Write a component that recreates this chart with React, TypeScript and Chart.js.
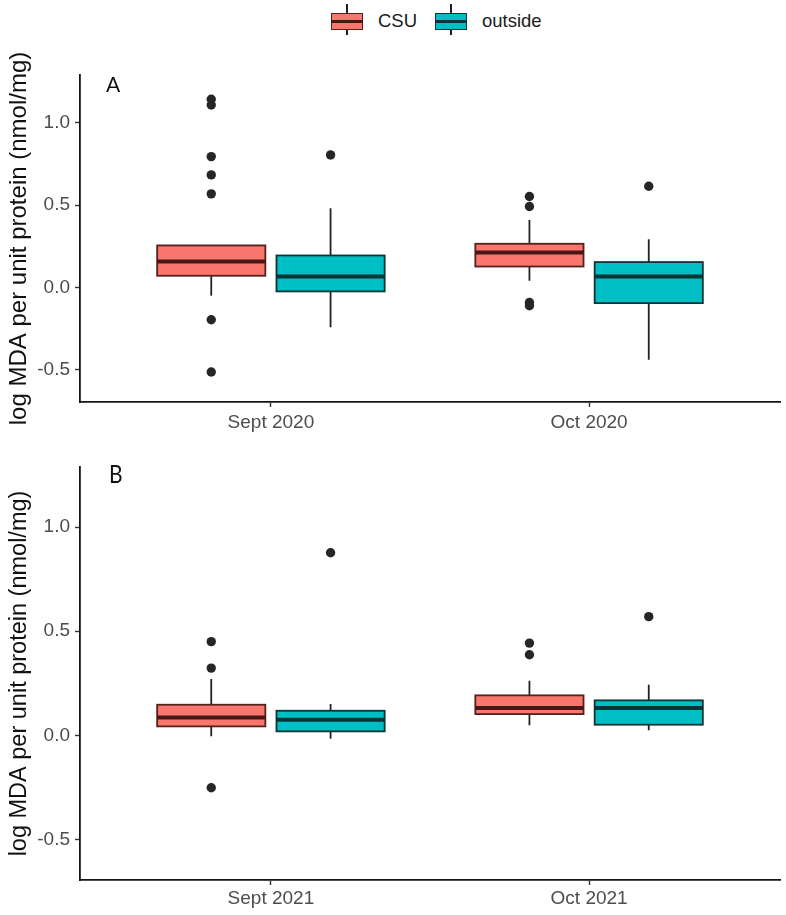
import React, { useEffect, useRef } from 'react';
import { Chart, registerables } from 'chart.js';

Chart.register(...registerables);

// ---------- data ----------
const groups = ['CSU', 'outside'];
const yTickValues = [-0.5, 0, 0.5, 1.0];
const yMin = -0.695;
const yMax = 1.289;
const yTitle = 'log MDA per unit protein (nmol/mg)';

// Panel A
const categoriesA = ['Sept 2020', 'Oct 2020'];
const csuA_low = [-0.05, 0.041];
const csuA_q1 = [0.071, 0.127];
const csuA_median = [0.158, 0.212];
const csuA_q3 = [0.255, 0.265];
const csuA_high = [0.255, 0.41];
const csuA_outliers = [
  [1.142, 1.107, 0.794, 0.683, 0.568, -0.196, -0.513],
  [0.552, 0.491, -0.091, -0.111],
];
const outsideA_low = [-0.242, -0.438];
const outsideA_q1 = [-0.024, -0.095];
const outsideA_median = [0.067, 0.067];
const outsideA_q3 = [0.194, 0.154];
const outsideA_high = [0.481, 0.293];
const outsideA_outliers = [[0.804], [0.614]];

// Panel B
const categoriesB = ['Sept 2021', 'Oct 2021'];
const csuB_low = [-0.005, 0.048];
const csuB_q1 = [0.043, 0.102];
const csuB_median = [0.086, 0.131];
const csuB_q3 = [0.147, 0.192];
const csuB_high = [0.27, 0.262];
const csuB_outliers = [
  [0.45, 0.323, -0.252],
  [0.443, 0.387],
];
const outsideB_low = [-0.017, 0.024];
const outsideB_q1 = [0.019, 0.051];
const outsideB_median = [0.075, 0.131];
const outsideB_q3 = [0.118, 0.168];
const outsideB_high = [0.15, 0.243];
const outsideB_outliers = [[0.877], [0.57]];

// ---------- styles ----------
const FONT = "'Liberation Sans', Arial, sans-serif";
const GROUP_OFFSET = 0.1875;
const BOX_HALF = 0.17;
const styles = [
  { fill: '#F8766D', stroke: '#52211e', median: '#4a1613' },
  { fill: '#00BFC4', stroke: '#0b3536', median: '#063536' },
];

type Stats = { low: number[]; q1: number[]; med: number[]; q3: number[]; high: number[]; outliers: number[][] };

function BoxPanel(props: {
  categories: string[];
  series: Stats[];
  height: number;
  padTop: number;
  xAxisH: number;
  xTickPad: number;
  titleSize: number;
}) {
  const ref = useRef<HTMLCanvasElement>(null);
  useEffect(() => {
    const { categories, series } = props;
    const boxPlugin = {
      id: 'boxes',
      beforeDatasetsDraw(chart: any) {
        const { ctx } = chart;
        const x = chart.scales.x;
        const y = chart.scales.y;
        series.forEach((s, gi) => {
          const off = gi === 0 ? -GROUP_OFFSET : GROUP_OFFSET;
          const st = styles[gi];
          s.q1.forEach((_, i) => {
            const xc = i + 1 + off;
            const cx = x.getPixelForValue(xc);
            const l = x.getPixelForValue(xc - BOX_HALF);
            const r = x.getPixelForValue(xc + BOX_HALF);
            const yLow = y.getPixelForValue(s.low[i]);
            const yQ1 = y.getPixelForValue(s.q1[i]);
            const yMed = y.getPixelForValue(s.med[i]);
            const yQ3 = y.getPixelForValue(s.q3[i]);
            const yHigh = y.getPixelForValue(s.high[i]);
            ctx.save();
            ctx.strokeStyle = '#222';
            ctx.lineWidth = 1.8;
            ctx.beginPath();
            ctx.moveTo(cx, yQ1);
            ctx.lineTo(cx, yLow);
            ctx.moveTo(cx, yQ3);
            ctx.lineTo(cx, yHigh);
            ctx.stroke();
            ctx.fillStyle = st.fill;
            ctx.fillRect(l, yQ3, r - l, yQ1 - yQ3);
            ctx.strokeStyle = st.stroke;
            ctx.lineWidth = 1.8;
            ctx.strokeRect(l, yQ3, r - l, yQ1 - yQ3);
            ctx.strokeStyle = st.median;
            ctx.lineWidth = 4;
            ctx.beginPath();
            ctx.moveTo(l, yMed);
            ctx.lineTo(r, yMed);
            ctx.stroke();
            ctx.restore();
          });
        });
      },
    };

    const datasets = series.map((s, gi) => {
      const off = gi === 0 ? -GROUP_OFFSET : GROUP_OFFSET;
      const pts: { x: number; y: number }[] = [];
      s.outliers.forEach((arr, i) => arr.forEach((v) => pts.push({ x: i + 1 + off, y: v })));
      return {
        label: groups[gi],
        data: pts,
        pointRadius: 4.7,
        pointBackgroundColor: '#262626',
        pointBorderWidth: 0,
        showLine: false,
      };
    });

    const chart = new Chart(ref.current as HTMLCanvasElement, {
      type: 'scatter',
      data: { datasets } as any,
      plugins: [boxPlugin],
      options: {
        animation: false,
        responsive: false,
        devicePixelRatio: 1,
        events: [],
        layout: { padding: { top: props.padTop, right: 6, left: 0, bottom: 0 } },
        plugins: { legend: { display: false }, tooltip: { enabled: false } },
        scales: {
          x: {
            type: 'linear',
            min: 0.4,
            max: 2.6,
            afterBuildTicks: (s: any) => {
              s.ticks = categories.map((_, i) => ({ value: i + 1 }));
            },
            afterFit: (s: any) => {
              s.height = props.xAxisH;
            },
            ticks: {
              autoSkip: false,
              maxRotation: 0,
              padding: props.xTickPad,
              color: '#4d4d4d',
              font: { family: FONT, size: 19 },
              callback: (v: any) => categories[Math.round(v) - 1],
            },
            grid: { display: true, drawOnChartArea: false, drawTicks: true, tickLength: 5, tickWidth: 1.4, tickColor: '#333' },
            border: { display: true, color: '#151515', width: 1.8 },
          },
          y: {
            type: 'linear',
            min: yMin,
            max: yMax,
            afterBuildTicks: (s: any) => {
              s.ticks = yTickValues.map((v) => ({ value: v }));
            },
            afterFit: (s: any) => {
              s.width = 80;
            },
            ticks: {
              padding: 5,
              color: '#4d4d4d',
              font: { family: FONT, size: 19 },
              callback: (v: any) => Number(v).toFixed(1),
            },
            grid: { display: true, drawOnChartArea: false, drawTicks: true, tickLength: 5, tickWidth: 1.4, tickColor: '#333' },
            border: { display: true, color: '#151515', width: 1.8 },
            title: {
              display: true,
              text: yTitle,
              color: '#111',
              font: { family: FONT, size: props.titleSize },
              padding: { top: 5, bottom: 0 },
            },
          },
        },
      } as any,
    });
    return () => chart.destroy();
  }, []);
  return <canvas ref={ref} width={786} height={props.height} style={{ display: 'block', width: 786, height: props.height }} />;
}

function LegendKey({ left, style }: { left: number; style: { fill: string; stroke: string; median: string } }) {
  return (
    <div style={{ position: 'absolute', left, top: 4, width: 32, height: 31 }}>
      <div style={{ position: 'absolute', left: 15, top: 0, width: 1.8, height: 31, background: '#222' }} />
      <div
        style={{
          position: 'absolute',
          left: 0,
          top: 9,
          width: 32,
          height: 17,
          boxSizing: 'border-box',
          background: style.fill,
          border: `1.8px solid ${style.stroke}`,
        }}
      />
      <div style={{ position: 'absolute', left: 0, top: 15.5, width: 32, height: 3.4, background: style.median }} />
    </div>
  );
}

export default function App() {
  const seriesA: Stats[] = [
    { low: csuA_low, q1: csuA_q1, med: csuA_median, q3: csuA_q3, high: csuA_high, outliers: csuA_outliers },
    { low: outsideA_low, q1: outsideA_q1, med: outsideA_median, q3: outsideA_q3, high: outsideA_high, outliers: outsideA_outliers },
  ];
  const seriesB: Stats[] = [
    { low: csuB_low, q1: csuB_q1, med: csuB_median, q3: csuB_q3, high: csuB_high, outliers: csuB_outliers },
    { low: outsideB_low, q1: outsideB_q1, med: outsideB_median, q3: outsideB_q3, high: outsideB_high, outliers: outsideB_outliers },
  ];
  const textStyle: React.CSSProperties = {
    position: 'absolute',
    fontFamily: FONT,
    fontSize: 18.5,
    color: '#1a1a1a',
    lineHeight: '20px',
    top: 11,
    whiteSpace: 'nowrap',
  };
  return (
    <div style={{ position: 'absolute', left: 0, top: 0, width: 786, height: 915, background: '#fff', overflow: 'hidden' }}>
      <LegendKey left={331} style={styles[0]} />
      <div style={{ ...textStyle, left: 378 }}>{groups[0]}</div>
      <LegendKey left={435} style={styles[1]} />
      <div style={{ ...textStyle, left: 482 }}>{groups[1]}</div>

      <div style={{ position: 'absolute', left: 0, top: 40 }}>
        <BoxPanel categories={categoriesA} series={seriesA} height={410} padTop={35} xAxisH={48} xTickPad={4} titleSize={24} />
      </div>
      <div style={{ position: 'absolute', left: 0, top: 450 }}>
        <BoxPanel categories={categoriesB} series={seriesB} height={465} padTop={17} xAxisH={35} xTickPad={2} titleSize={23.5} />
      </div>

      <div style={{ position: 'absolute', left: 106, top: 72, fontFamily: 'Lato, sans-serif', fontSize: 21, lineHeight: '24px', color: '#111' }}>A</div>
      <div
        style={{
          position: 'absolute',
          left: 109,
          top: 460,
          fontFamily: 'Lato, sans-serif',
          fontSize: 21,
          lineHeight: '24px',
          color: '#111',
          transform: 'scaleY(1.15)',
          transformOrigin: 'top left',
        }}
      >
        B
      </div>
    </div>
  );
}
